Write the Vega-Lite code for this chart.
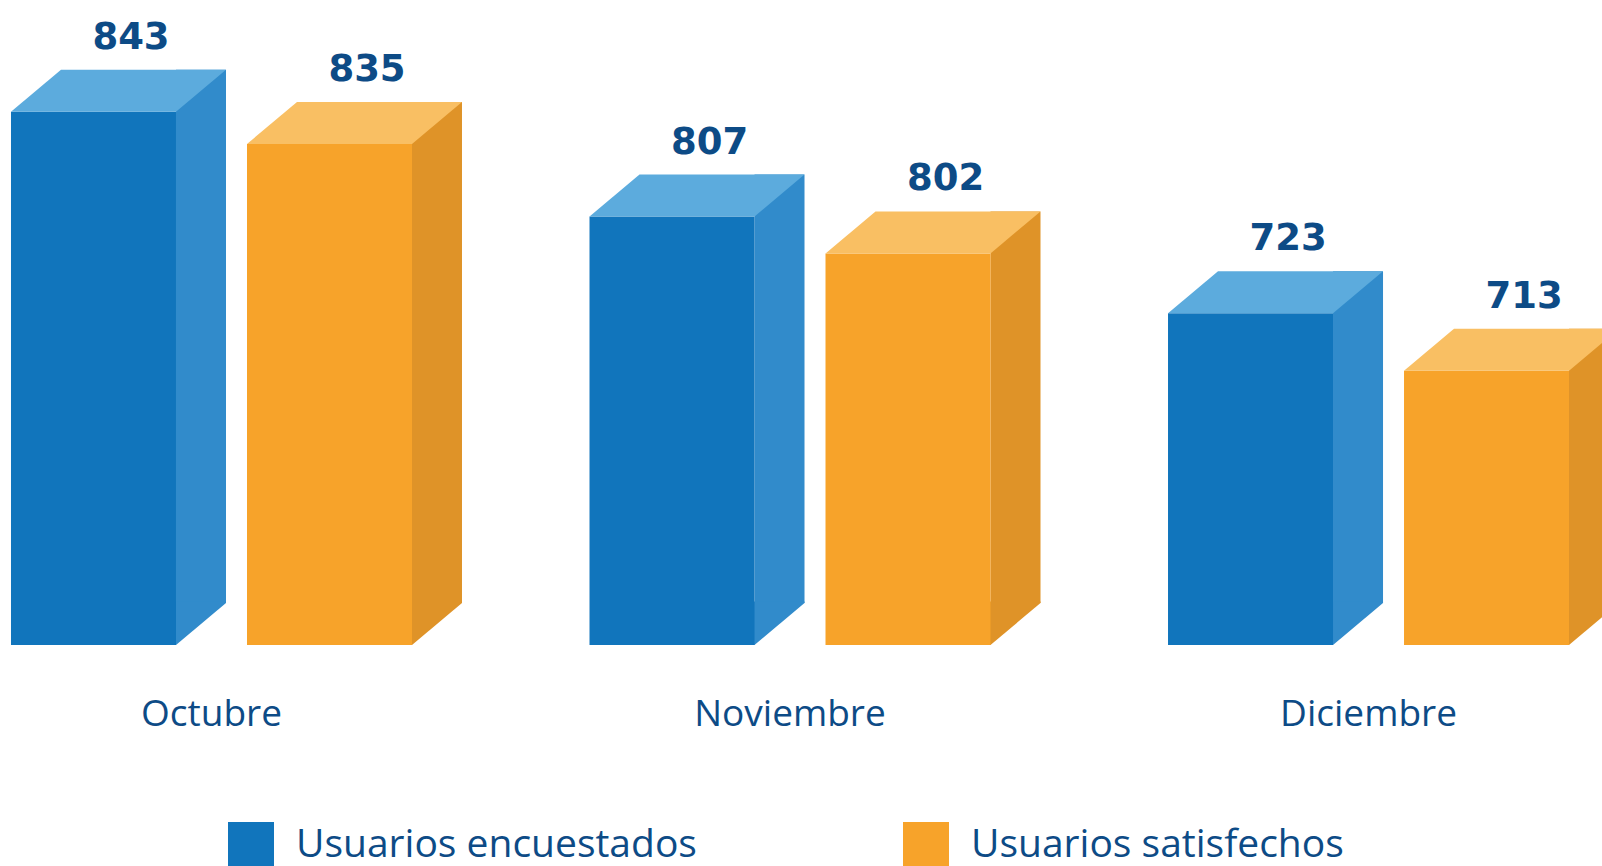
{
  "$schema": "https://vega.github.io/schema/vega-lite/v6.json",
  "width": 1602,
  "height": 645,
  "autosize": {"type": "none"},
  "padding": {"left": 0, "top": 0, "right": 0, "bottom": 221},
  "background": "white",
  "config": {"view": {"stroke": null}, "font": "Open Sans"},
  "data": {
    "values": [
      {"mes": "Octubre", "serie": "Usuarios encuestados", "valor": 843},
      {"mes": "Octubre", "serie": "Usuarios satisfechos", "valor": 835},
      {"mes": "Noviembre", "serie": "Usuarios encuestados", "valor": 807},
      {"mes": "Noviembre", "serie": "Usuarios satisfechos", "valor": 802},
      {"mes": "Diciembre", "serie": "Usuarios encuestados", "valor": 723},
      {"mes": "Diciembre", "serie": "Usuarios satisfechos", "valor": 713}
    ]
  },
  "encoding": {
    "x": {
      "field": "mes",
      "type": "nominal",
      "sort": ["Octubre", "Noviembre", "Diciembre"],
      "scale": {"paddingInner": 0.30683, "paddingOuter": 0.038, "align": 0.25},
      "axis": {
        "title": null,
        "domain": false,
        "ticks": false,
        "tickSize": 0,
        "grid": false,
        "labelAngle": 0,
        "labelFont": "Open Sans",
        "labelFontSize": 37,
        "labelColor": "#0d4b86",
        "labelPadding": 80.7,
        "labelBaseline": "alphabetic",
        "labelLimit": 500
      }
    },
    "y": {
      "field": "valor",
      "type": "quantitative",
      "scale": {
        "domain": [0, 713, 723, 802, 807, 835, 843],
        "range": [645, 370.7, 313.3, 253.4, 216.6, 144, 111.7],
        "zero": false,
        "nice": false
      },
      "axis": null
    }
  },
  "layer": [
    {
      "mark": {"type": "bar", "yOffset": -42},
      "encoding": {
        "xOffset": {
          "field": "serie",
          "type": "nominal",
          "scale": {"type": "band", "range": [165, 451], "paddingInner": 0.7881, "paddingOuter": 0}
        },
        "color": {
          "field": "serie",
          "type": "nominal",
          "scale": {"range": ["#318bcb", "#df9328"]},
          "legend": null
        }
      }
    },
    {
      "mark": {
        "type": "point",
        "shape": "M-1.04,0L-1.04,-1.74L1,-1.74L1,-1.68L-1,0Z",
        "size": 2500,
        "filled": true,
        "opacity": 1,
        "strokeWidth": 0
      },
      "encoding": {
        "xOffset": {
          "field": "serie",
          "type": "nominal",
          "scale": {"type": "point", "range": [190, 426], "padding": 0}
        },
        "y": {"datum": 0, "type": "quantitative"},
        "color": {
          "field": "serie",
          "type": "nominal",
          "scale": {"range": ["#318bcb", "#df9328"]},
          "legend": null
        }
      }
    },
    {
      "mark": {"type": "bar"},
      "encoding": {
        "xOffset": {
          "field": "serie",
          "type": "nominal",
          "scale": {"type": "band", "paddingInner": 0.30085, "paddingOuter": 0}
        },
        "color": {
          "field": "serie",
          "type": "nominal",
          "scale": {"range": ["#1175bc", "#f7a32a"]},
          "legend": {
            "orient": "none",
            "legendX": 228,
            "legendY": 822,
            "direction": "horizontal",
            "title": null,
            "symbolType": "square",
            "symbolSize": 2116,
            "symbolStrokeWidth": 0,
            "symbolOpacity": 1,
            "labelFont": "Open Sans",
            "labelFontSize": 39,
            "labelColor": "#0d4b86",
            "labelOffset": 22,
            "columnPadding": 206,
            "labelLimit": 1000,
            "padding": 0
          }
        }
      }
    },
    {
      "mark": {
        "type": "point",
        "shape": "M-1,0L1,0L1.6061,-0.5091L-0.3939,-0.5091Z",
        "size": 27225,
        "filled": true,
        "opacity": 1,
        "strokeWidth": 0
      },
      "encoding": {
        "xOffset": {
          "field": "serie",
          "type": "nominal",
          "scale": {"type": "point", "range": [82.5, 318.5], "padding": 0}
        },
        "color": {
          "field": "serie",
          "type": "nominal",
          "scale": {"range": ["#5cabdd", "#f9bf63"]},
          "legend": null
        }
      }
    },
    {
      "mark": {
        "type": "text",
        "dx": 37.5,
        "dy": -63,
        "baseline": "alphabetic",
        "align": "center",
        "font": "DejaVu Sans",
        "fontSize": 37,
        "fontWeight": "bold",
        "color": "#0d4b86"
      },
      "encoding": {
        "xOffset": {
          "field": "serie",
          "type": "nominal",
          "scale": {"type": "point", "range": [82.5, 318.5], "padding": 0}
        },
        "text": {"field": "valor", "type": "quantitative"}
      }
    }
  ],
  "resolve": {"scale": {"color": "independent", "xOffset": "independent"}}
}
